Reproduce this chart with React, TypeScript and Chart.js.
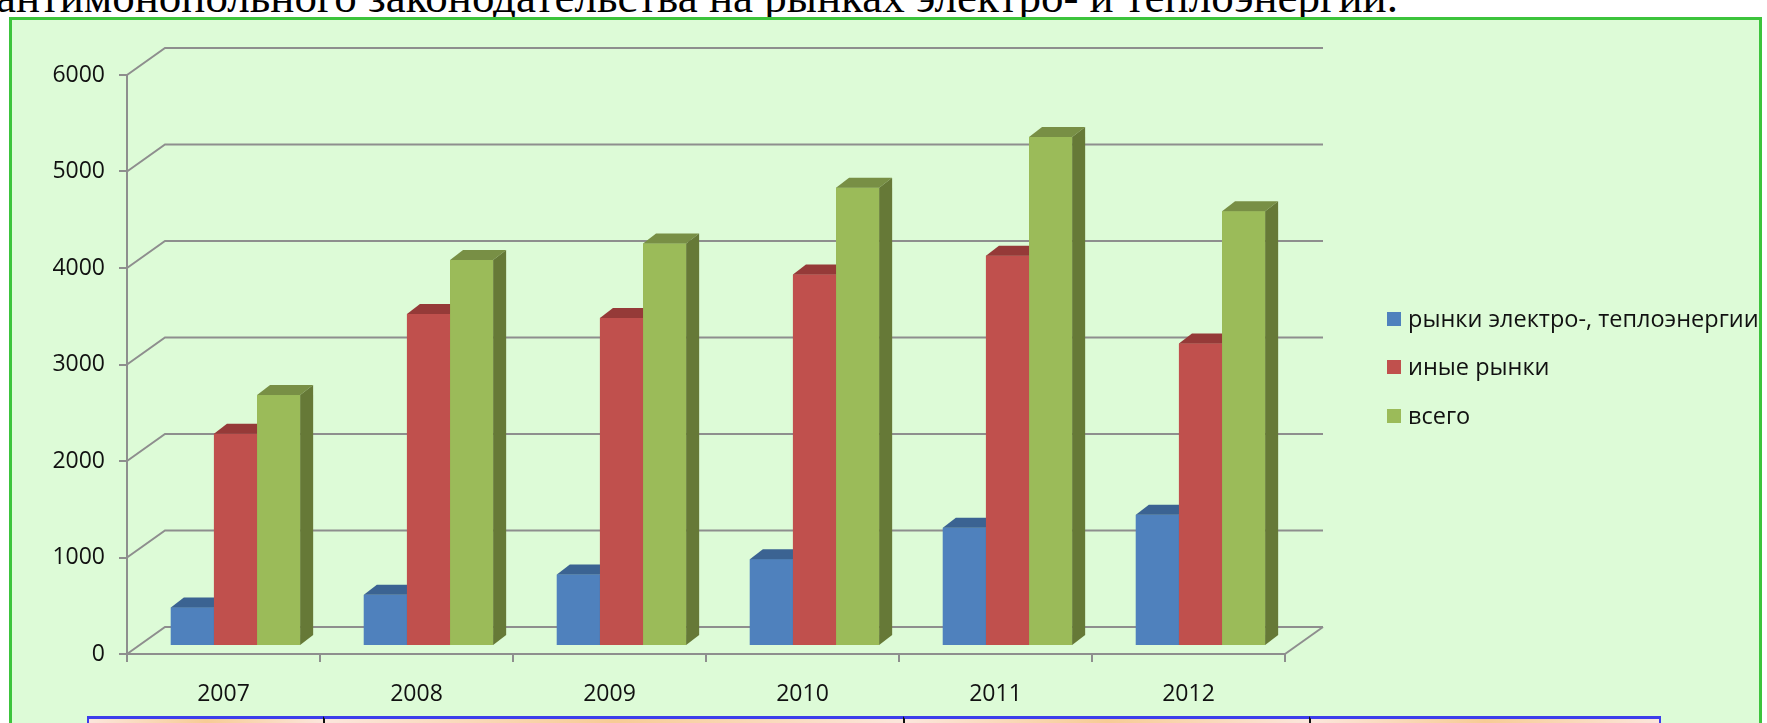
import React, { useEffect, useRef } from "react";
import { Chart, registerables } from "chart.js";

Chart.register(...registerables);

const categories = ["2007", "2008", "2009", "2010", "2011", "2012"];
const seriesLabels = ["рынки электро-, теплоэнергии", "иные рынки", "всего"];
const electroHeatMarkets = [400, 530, 740, 900, 1225, 1360];
const otherMarkets = [2200, 3440, 3400, 3850, 4045, 3135];
const totalCases = [2600, 4000, 4170, 4750, 5275, 4505];
const yTickValues = [0, 1000, 2000, 3000, 4000, 5000, 6000];
const headingText = "антимонопольного законодательства на рынках электро- и теплоэнергии.";

const frontColors = ["#4F81BD", "#C0504D", "#9BBB59"];
const topColors = ["#3B6392", "#953A38", "#788F45"];
const sideColors = ["#3A5E8A", "#8C3634", "#667937"];

const GRID = "#8E8E8E";
const TEXT = "#111111";
const FONT = '"Open Sans", "DejaVu Sans", sans-serif';

// geometry of the 3D look (pixels)
const WALL_DX = 38;
const WALL_DY = -27;
const BAR_DX = 12;
const BAR_DY = -8;
const DEPTH_DX = 13;
const DEPTH_DY = -10;

const threeD = {
  id: "threeD",
  beforeDatasetsDraw(chart: any) {
    const { ctx, chartArea: a, scales } = chart;
    const y = scales.y;
    ctx.save();
    ctx.strokeStyle = GRID;
    ctx.lineWidth = 2;
    for (const v of yTickValues) {
      const fy = y.getPixelForValue(v);
      ctx.beginPath();
      ctx.moveTo(a.left, fy);
      ctx.lineTo(a.left + WALL_DX, fy + WALL_DY);
      ctx.lineTo(a.right + WALL_DX, fy + WALL_DY);
      ctx.stroke();
    }
    const by = y.getPixelForValue(0);
    ctx.beginPath();
    ctx.moveTo(a.right, by);
    ctx.lineTo(a.right + WALL_DX, by + WALL_DY);
    ctx.stroke();
    ctx.restore();
    ctx.save();
    ctx.translate(BAR_DX, BAR_DY);
  },
  afterDatasetsDraw(chart: any) {
    const { ctx } = chart;
    const metas = chart.data.datasets.map((_: any, i: number) => chart.getDatasetMeta(i));
    for (let j = 0; j < categories.length; j++) {
      for (let i = 0; i < metas.length; i++) {
        const el = metas[i].data[j];
        const p = el.getProps(["x", "y", "base", "width"], true);
        const l = p.x - p.width / 2;
        const r = p.x + p.width / 2;
        const t = p.y;
        const b = p.base;
        ctx.fillStyle = frontColors[i];
        ctx.fillRect(l, t, r - l, b - t);
        ctx.fillStyle = topColors[i];
        ctx.beginPath();
        ctx.moveTo(l, t);
        ctx.lineTo(r, t);
        ctx.lineTo(r + DEPTH_DX, t + DEPTH_DY);
        ctx.lineTo(l + DEPTH_DX, t + DEPTH_DY);
        ctx.closePath();
        ctx.fill();
        ctx.fillStyle = sideColors[i];
        ctx.beginPath();
        ctx.moveTo(r, t);
        ctx.lineTo(r + DEPTH_DX, t + DEPTH_DY);
        ctx.lineTo(r + DEPTH_DX, b + DEPTH_DY);
        ctx.lineTo(r, b);
        ctx.closePath();
        ctx.fill();
      }
    }
    ctx.restore();
  },
  afterDraw(chart: any) {
    const { ctx } = chart;
    const rows = [319, 367, 416];
    ctx.save();
    ctx.font = `23.5px ${FONT}`;
    ctx.textBaseline = "middle";
    ctx.textAlign = "left";
    chart.data.datasets.forEach((ds: any, i: number) => {
      ctx.fillStyle = frontColors[i];
      ctx.fillRect(1387, rows[i] - 7, 14, 14);
      ctx.fillStyle = TEXT;
      ctx.fillText(ds.label, 1408, rows[i] + 1);
    });
    ctx.restore();
  },
};

export default function App() {
  const ref = useRef<HTMLCanvasElement>(null);

  useEffect(() => {
    document.body.style.margin = "0";
    const canvas = ref.current!;
    const series = [electroHeatMarkets, otherMarkets, totalCases];
    const chart = new Chart(canvas, {
      type: "bar",
      data: {
        labels: categories,
        datasets: series.map((d, i) => ({
          label: seriesLabels[i],
          data: d,
          backgroundColor: frontColors[i],
          borderWidth: 0,
          categoryPercentage: 0.67,
          barPercentage: 1,
          clip: false as any,
        })),
      },
      options: {
        responsive: false,
        animation: false,
        layout: { padding: { left: 0, top: 75, right: 1767 - 1285, bottom: 0 } },
        plugins: { legend: { display: false }, tooltip: { enabled: false } },
        scales: {
          x: {
            grid: {
              display: true,
              drawOnChartArea: false,
              drawTicks: true,
              tickLength: 8,
              color: GRID,
              lineWidth: 2,
              offset: true,
            },
            border: { display: true, color: GRID, width: 2 },
            ticks: { font: { family: FONT, size: 23 }, color: TEXT, padding: 19 },
            afterFit(s: any) {
              s.height = 723 - 654;
            },
          },
          y: {
            min: 0,
            max: 6000,
            afterBuildTicks(s: any) {
              s.ticks = yTickValues.map((v) => ({ value: v }));
            },
            grid: {
              display: true,
              drawOnChartArea: false,
              drawTicks: true,
              tickLength: 8,
              color: GRID,
              lineWidth: 2,
            },
            border: { display: true, color: GRID, width: 2 },
            ticks: {
              font: { family: FONT, size: 23 },
              color: TEXT,
              padding: 14,
              callback: (v: any) => String(v),
            },
            afterFit(s: any) {
              s.width = 127;
            },
          },
        },
      },
      plugins: [threeD],
    });
    return () => chart.destroy();
  }, []);

  const cells = [
    [87, 323],
    [323, 903],
    [903, 1309],
    [1309, 1661],
  ];

  return (
    <div style={{ position: "relative", width: 1767, height: 723, overflow: "hidden", background: "#ffffff" }}>
      <div
        style={{
          position: "absolute",
          left: -4,
          top: -25,
          fontFamily: '"Liberation Serif", "Times New Roman", serif',
          fontSize: 45,
          lineHeight: "45px",
          whiteSpace: "nowrap",
          color: "#000",
        }}
      >
        {headingText}
      </div>
      <div
        style={{
          position: "absolute",
          left: 9,
          top: 17,
          width: 1762 - 9 - 6,
          height: 800,
          border: "3px solid #3CC43C",
          background: "#DDFBD7",
        }}
      />
      <canvas ref={ref} width={1767} height={723} style={{ position: "absolute", left: 0, top: 0 }} />
      {cells.map(([a, b], k) => (
        <div
          key={k}
          style={{
            position: "absolute",
            left: a,
            top: 716,
            width: b - a,
            height: 20,
            boxSizing: "border-box",
            borderTop: "3px solid #3D3DEB",
            borderLeft: k === 0 ? "2px solid #3D3DEB" : "2px solid #111",
            borderRight: k === cells.length - 1 ? "2px solid #3D3DEB" : "none",
            background: "linear-gradient(90deg, #FBE6DC, #F7CB95 50%, #FBE6DC)",
          }}
        />
      ))}
    </div>
  );
}
